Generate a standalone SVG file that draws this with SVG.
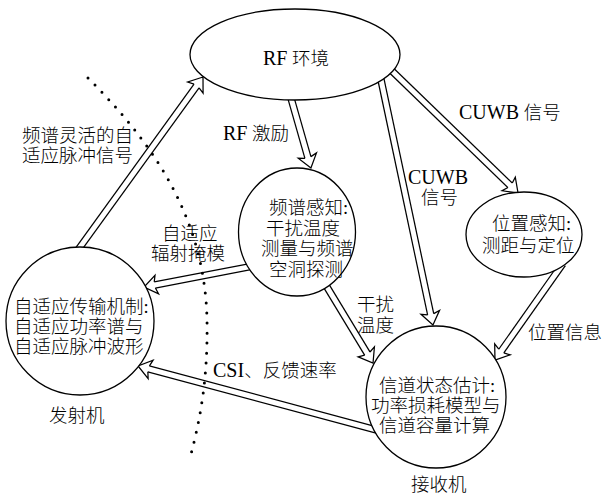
<svg xmlns="http://www.w3.org/2000/svg" width="604" height="495" viewBox="0 0 604 495">
<style>
text{font-family:'Liberation Serif','Noto Sans CJK SC',serif;font-size:18.5px;font-weight:300;fill:#000}
.l{font-size:20px}
.n{fill:#fff;stroke:#000;stroke-width:1.3}
.o{stroke:#000;stroke-width:7.5;fill:none}
.i{stroke:#fff;stroke-width:5;fill:none;marker-end:url(#ah)}
.dot{fill:none;stroke:#000;stroke-width:3;stroke-linecap:round;stroke-dasharray:0 10}
</style>
<defs>
<marker id="ah" markerUnits="userSpaceOnUse" orient="auto" refX="5" refY="0" markerWidth="20" markerHeight="20" overflow="visible">
<path d="M1,-3.75 L-1,-9.5 L12,0 L-1,9.5 L1,3.75Z" fill="#fff"/>
<path d="M1,-3.1 L-1,-9.5 L12,0 L-1,9.5 L1,3.1" fill="none" stroke="#000" stroke-width="1.25"/>
</marker>
</defs>
<rect width="604" height="495" fill="#fff"/>
<g id="connectors">
<g id="e1"><path class="o" d="M77.1,251.1 L198.9,82.7"/><path class="i" d="M77.1,251.1 L198.9,82.7"/></g>
<g id="e2"><path class="o" d="M289.6,93.2 L309.0,161.3"/><path class="i" d="M289.6,93.2 L309.0,161.3"/></g>
<g id="e3"><path class="o" d="M380,75.1 L431.5,318.2"/><path class="i" d="M380,75.1 L431.5,318.2"/></g>
<g id="e4"><path class="o" d="M388.4,67.5 L513.0,188.1"/><path class="i" d="M388.4,67.5 L513.0,188.1"/></g>
<g id="e5"><path class="o" d="M562.8,263.8 L499.0,354.3"/><path class="i" d="M562.8,263.8 L499.0,354.3"/></g>
<g id="e6"><path class="o" d="M324.4,282.7 L369.4,357.0"/><path class="i" d="M324.4,282.7 L369.4,357.0"/></g>
<g id="e7"><path class="o" d="M252.9,266.1 L150.9,285.7"/><path class="i" d="M252.9,266.1 L150.9,285.7"/></g>
<g id="e8"><path class="o" d="M378.7,430.6 L144.8,367.8"/><path class="i" d="M378.7,430.6 L144.8,367.8"/></g>
</g>
<g id="nodes">
<g id="rf"><ellipse class="n" cx="295" cy="54.5" rx="105" ry="45.5"/><text x="263" y="65"><tspan class="l">RF</tspan> 环境</text></g>
<g id="spectrum"><ellipse class="n" cx="297" cy="232" rx="58.5" ry="64"/>
<text x="269" y="214">频谱感知:</text>
<text x="266" y="234.5">干扰温度</text>
<text x="261" y="255">测量与频谱</text>
<text x="269" y="275.5">空洞探测</text></g>
<g id="position"><ellipse class="n" cx="524" cy="234.5" rx="58" ry="42.5"/>
<text x="492" y="230">位置感知:</text>
<text x="482" y="252">测距与定位</text></g>
<g id="transmitter"><circle class="n" cx="80" cy="321" r="74"/>
<text x="14" y="312.5">自适应传输机制:</text>
<text x="14" y="332.5">自适应功率谱与</text>
<text x="14" y="352.5">自适应脉冲波形</text></g>
<g id="receiver"><ellipse class="n" cx="436" cy="397" rx="70" ry="71"/>
<text x="379" y="392">信道状态估计:</text>
<text x="371" y="412">功率损耗模型与</text>
<text x="379" y="432">信道容量计算</text></g>
</g>
<g id="labels">
<text x="22" y="142">频谱灵活的自</text>
<text x="22" y="162">适应脉冲信号</text>
<text x="223" y="140"><tspan class="l">RF</tspan> 激励</text>
<text x="162" y="240">自适应</text>
<text x="151" y="260">辐射掩模</text>
<text x="459" y="119"><tspan class="l">CUWB</tspan> 信号</text>
<text x="408" y="184" class="l">CUWB</text>
<text x="421" y="204">信号</text>
<text x="357" y="311">干扰</text>
<text x="357" y="332">温度</text>
<text x="528" y="339">位置信息</text>
<text x="213" y="377"><tspan class="l">CSI</tspan>、反馈速率</text>
<text x="49" y="422">发射机</text>
<text x="411" y="491">接收机</text>
</g>
<path id="boundary" class="dot" d="M88,78 C150,140 205,215 207,320 C208,380 200,420 190,458"/>
</svg>
